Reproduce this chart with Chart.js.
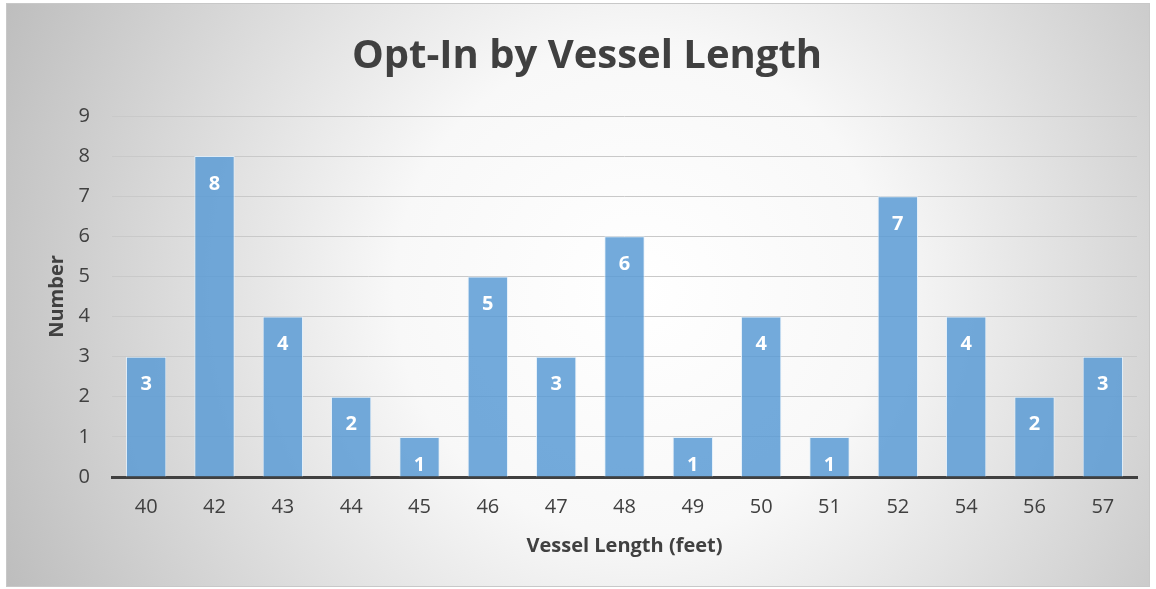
<!DOCTYPE html>
<html><head><meta charset="utf-8">
<script src="https://cdn.jsdelivr.net/npm/chart.js@4.4.1/dist/chart.umd.min.js"></script>
<style>html,body{margin:0;padding:0;background:#fff;}#wrap{width:1156px;height:589px;position:relative;}</style>
</head><body><div id="wrap"><canvas id="c" width="1156" height="589"></canvas></div>
<script>
const categories = ['40','42','43','44','45','46','47','48','49','50','51','52','54','56','57'];
const counts = [3,8,4,2,1,5,3,6,1,4,1,7,4,2,3];
const yTicks = [0,1,2,3,4,5,6,7,8,9];
const titleText = 'Opt-In by Vessel Length';
const xTitle = 'Vessel Length (feet)';
const yTitle = 'Number';
const FONT = "'Open Sans', sans-serif";

const bgPlugin = {
  id: 'bg',
  beforeDraw(chart) {
    const ctx = chart.ctx;
    ctx.save();
    ctx.fillStyle = '#ffffff';
    ctx.fillRect(0,0,chart.width,chart.height);
    const x0=6,y0=3,x1=1150,y1=587;
    const g = ctx.createRadialGradient(640,290,0,640,290,700);
    g.addColorStop(0,'#ffffff');
    g.addColorStop(0.35,'#f8f8f8');
    g.addColorStop(1,'#bdbdbd');
    ctx.fillStyle = g;
    ctx.fillRect(x0,y0,x1-x0,y1-y0);
    ctx.strokeStyle='#c8c8c8';
    ctx.lineWidth=1;
    ctx.strokeRect(x0+0.5,y0+0.5,x1-x0-1,y1-y0-1);
    ctx.fillStyle = '#404040';
    ctx.font = "bold 40px " + FONT;
    ctx.textAlign = 'center';
    ctx.textBaseline = 'middle';
    ctx.fillText(titleText, 587, 57);
    ctx.restore();
  }
};
const labelPlugin = {
  id: 'barLabels',
  afterDatasetsDraw(chart) {
    const ctx = chart.ctx;
    const meta = chart.getDatasetMeta(0);
    ctx.save();
    ctx.fillStyle = '#ffffff';
    ctx.font = "bold 20px " + FONT;
    ctx.textAlign = 'center';
    ctx.textBaseline = 'middle';
    meta.data.forEach((bar, i) => {
      ctx.fillText(String(counts[i]), bar.x, bar.y + 28);
    });
    ctx.restore();
  }
};

new Chart(document.getElementById('c'), {
  type: 'bar',
  data: {
    labels: categories,
    datasets: [{
      data: counts,
      backgroundColor: 'rgba(91,155,213,0.85)',
      borderColor: 'rgba(225,238,250,0.9)',
      borderWidth: 1,
      barPercentage: 1.0,
      categoryPercentage: 0.59
    }]
  },
  options: {
    responsive: false,
    animation: false,
    events: [],
    layout: { padding: { left: 45, right: 19, top: 116, bottom: 20 } },
    plugins: {
      legend: { display: false },
      tooltip: { enabled: false },
      title: { display: false }
    },
    scales: {
      x: {
        afterFit(scale) { scale.height = 92; },
        grid: { display: false, drawTicks: false },
        border: { display: true, color: '#404040', width: 3 },
        ticks: { color: '#404040', font: { family: FONT, size: 20 }, padding: 18 },
        title: { display: true, text: xTitle, color: '#404040', font: { family: FONT, size: 20, weight: 'bold' }, padding: { top: 0, bottom: 11 } }
      },
      y: {
        min: 0, max: 9,
        afterBuildTicks(scale) { scale.ticks = yTicks.map(v => ({ value: v })); },
        afterFit(scale) { scale.width = 67; },
        grid: { color: '#c9c9c9', lineWidth: 1, drawTicks: false },
        border: { display: false },
        ticks: { color: '#404040', font: { family: FONT, size: 20 }, padding: 22 },
        title: { display: true, text: yTitle, color: '#404040', font: { family: FONT, size: 20, weight: 'bold' }, padding: 0 }
      }
    }
  },
  plugins: [bgPlugin, labelPlugin]
});
</script></body></html>
